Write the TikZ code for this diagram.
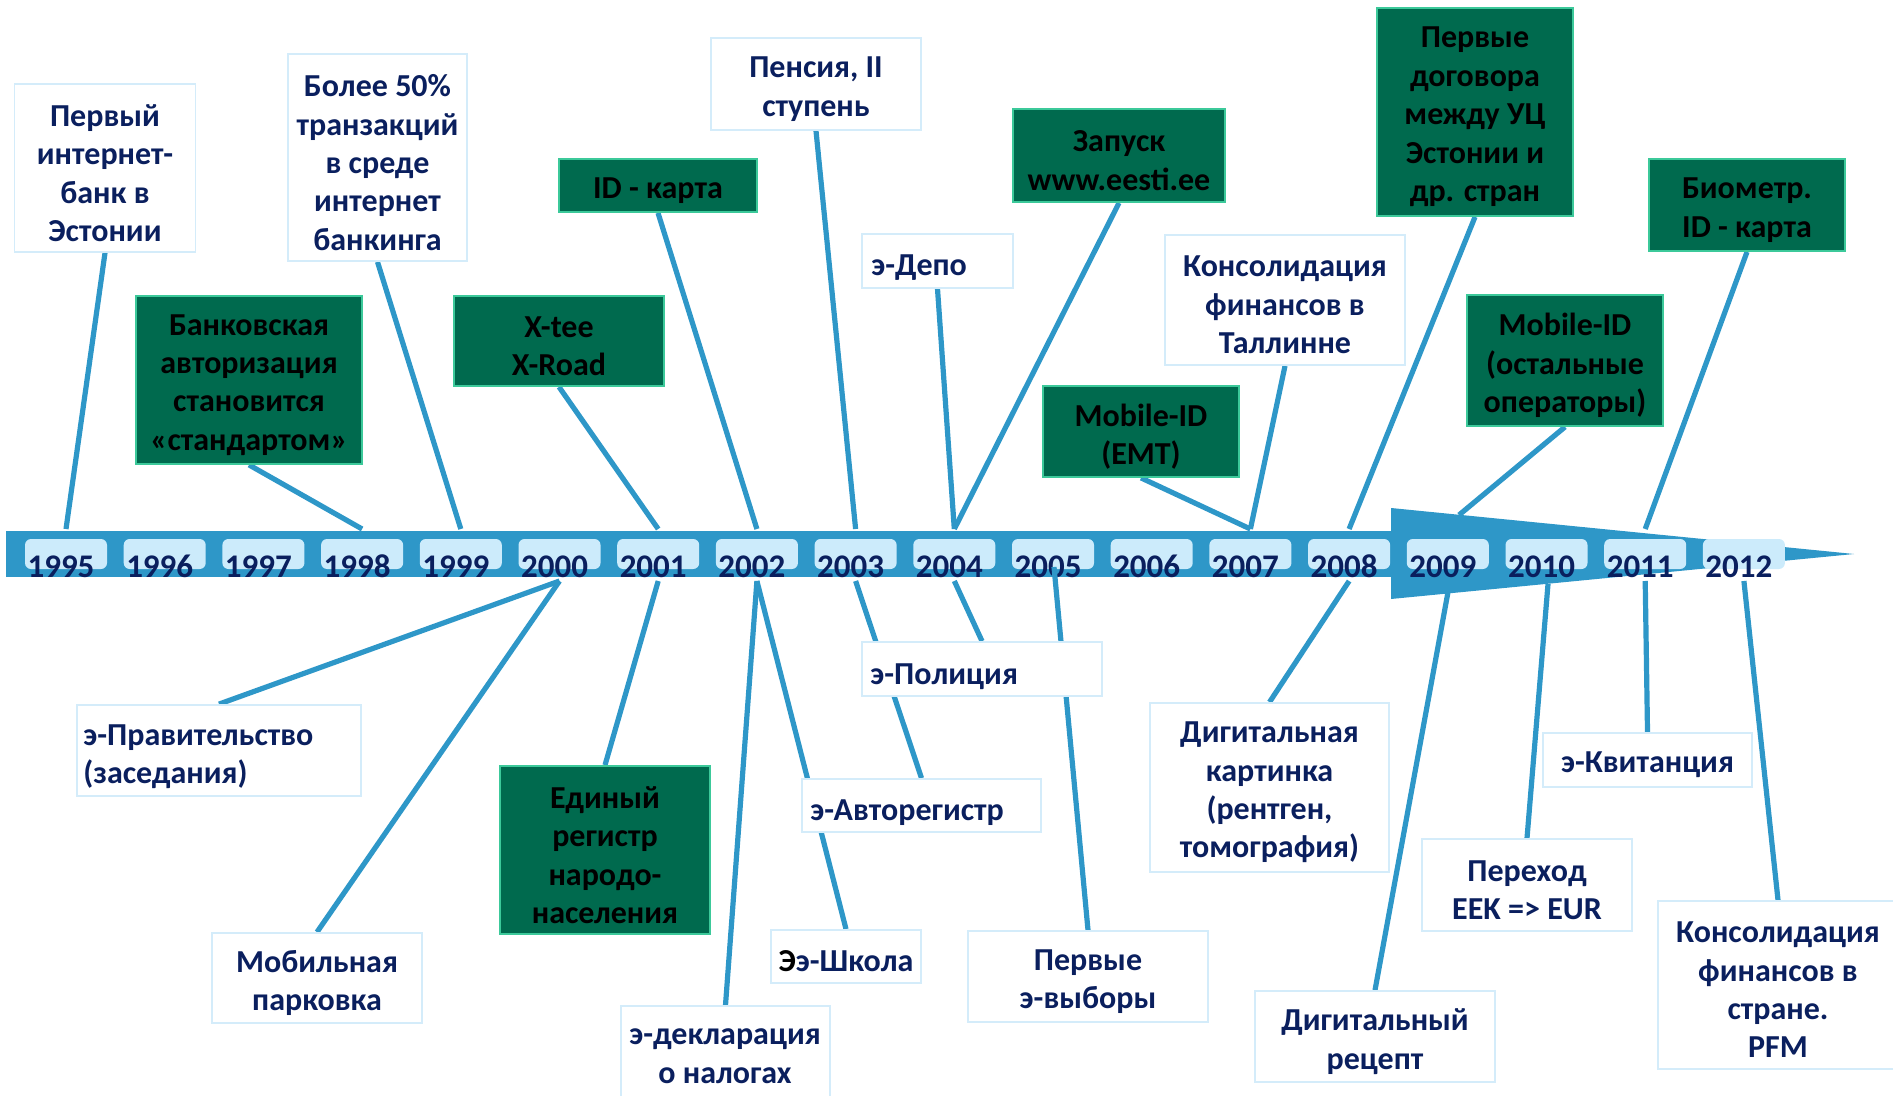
\documentclass[tikz,border=0pt]{standalone}
\usepackage{fontspec}
\setmainfont{Carlito}
\usetikzlibrary{fit}
\definecolor{navy}{HTML}{0A1F5E}
\definecolor{gfill}{HTML}{006A4E}
\definecolor{gline}{HTML}{3CC99A}
\definecolor{wline}{HTML}{D4ECFA}
\definecolor{lblue}{HTML}{2E97C8}
\definecolor{ybox}{HTML}{CCEBFB}
\pgfdeclarelayer{bg}
\pgfdeclarelayer{mid}
\pgfsetlayers{bg,mid,main}
\begin{document}
\begin{tikzpicture}[x=0.5pt,y=-0.5pt,
  txt/.style={font=\fontsize{16}{19.2}\selectfont\bfseries, inner sep=0pt},
  wbox/.style={draw=wline, line width=0.9pt, fill=white, inner sep=0pt},
  gbox/.style={draw=gline, line width=0.9pt, fill=gfill, inner sep=0pt},
  wt/.style={txt, text=navy, align=center, yshift=-2.5pt},
  gt/.style={txt, text=black, align=center, yshift=-2.5pt},
  ltxt/.style={txt, text=navy, align=left},
  conn/.style={draw=lblue, line width=2.6pt},
  yearbox/.style={fill=ybox, rounded corners=3pt, minimum width=41pt, minimum height=15pt, inner sep=0pt},
  yeartxt/.style={font=\fontsize{16.5}{18}\selectfont\bfseries, text=navy, anchor=base, inner sep=0pt}]
\useasboundingbox (0,0) rectangle (1893,1096);

% ---- timeline bar ----
\begin{pgfonlayer}{bg}
  \fill[lblue] (6,531) rectangle (1391,577);
  \fill[lblue] (1391,508) -- (1854,554) -- (1391,599) -- cycle;
  \foreach \i in {0,...,17}{
    \pgfmathsetmacro\cx{66+98.7*\i}
    \pgfmathtruncatemacro\yr{1995+\i}
    \node[yearbox] (yb\yr) at (\cx,554) {};
    \node[yeartxt] (yt\yr) at (\cx-5,577) {\yr};
    \coordinate (t\yr) at (\cx,529);
    \coordinate (b\yr) at (\cx,581);
  }
\end{pgfonlayer}
\coordinate (t2009x) at (1459,515);
\coordinate (b2005x) at (1054,567);
\coordinate (b2009x) at (1448,592);
\coordinate (b2010x) at (1548,584);

% ---- upper boxes ----
\node[wbox, fit={(14.5,84) (195.5,252)}] (a1) {};
\node[wt] (a1t) at (a1.center) {Первый\\интернет-\\банк в\\Эстонии};
\node[wbox, fit={(288,54) (467,261)}] (a2) {};
\node[wt] (a2t) at (a2.center) {Более 50\%\\транзакций\\в среде\\интернет\\банкинга};
\node[wbox, fit={(711,38) (921,130)}] (a3) {};
\node[wt] (a3t) at (a3.center) {Пенсия, II\\ступень};
\node[wbox, fit={(862,234) (1013,288)}] (a4) {};
\node[ltxt, anchor=base west] (a4t) at (871,276) {э-Депо};
\node[wbox, fit={(1165,235) (1405,365)}] (a5) {};
\node[wt] (a5t) at (a5.center) {Консолидация\\финансов в\\Таллинне};

\node[gbox, fit={(136,296) (362,464)}] (g1) {};
\node[gt] (g1t) at (g1.center) {Банковская\\авторизация\\становится\\«стандартом»};
\node[gbox, fit={(454,296) (664,386)}] (g2) {};
\node[gt] (g2t) at (g2.center) {X-tee\\X-Road};
\node[gbox, fit={(559,159) (757,212)}] (g3) {};
\node[gt] (g3t) at (g3.center) {ID - карта};
\node[gbox, fit={(1013,109) (1225,202)}] (g4) {};
\node[gt] (g4t) at (g4.center) {Запуск\\www.eesti.ee};
\node[gbox, fit={(1043,386) (1239,477)}] (g5) {};
\node[gt] (g5t) at (g5.center) {Mobile-ID\\(EMT)};
\node[gbox, fit={(1377,8) (1573,216)}] (g6) {};
\node[gt] (g6t) at (g6.center) {Первые\\договора\\между УЦ\\Эстонии и\\др. стран};
\node[gbox, fit={(1467,295) (1663,426)}] (g7) {};
\node[gt] (g7t) at (g7.center) {Mobile-ID\\(остальные\\операторы)};
\node[gbox, fit={(1649,159) (1845,251)}] (g8) {};
\node[gt] (g8t) at (g8.center) {Биометр.\\ID - карта};

% ---- lower boxes ----
\node[wbox, fit={(77,705) (361,796)}] (b1) {};
\node[ltxt, anchor=north west] (b1t) at (83,724) {э-Правительство\\(заседания)};
\node[wbox, fit={(212,933) (422,1023)}] (b2) {};
\node[wt] (b2t) at (b2.center) {Мобильная\\парковка};
\node[gbox, fit={(500,766) (710,934)}] (g9) {};
\node[gt] (g9t) at (g9.center) {Единый\\регистр\\народо-\\населения};
\node[wbox, fit={(621,1006) (830,1120)}] (b3) {};
\node[txt, text=navy, align=center, anchor=base] (b3t) at (725,1083) {э-декларация\\о налогах};
\node[wbox, fit={(862,642) (1102,696)}] (b4) {};
\node[ltxt, anchor=base west] (b4t) at (870,684) {э-Полиция};
\node[wbox, fit={(802,779) (1041,832)}] (b5) {};
\node[ltxt, anchor=base west] (b5t) at (810,820) {э-Авторегистр};
\node[wbox, fit={(771,930) (921,983)}] (b6) {};
\node[wt] (b6t) at (b6.center) {{\color{black}Э}э-Школа};
\node[wbox, fit={(968,931) (1208,1022)}] (b7) {};
\node[wt] (b7t) at (b7.center) {Первые\\э-выборы};
\node[wbox, fit={(1150,703) (1389,872)}] (b8) {};
\node[wt] (b8t) at (b8.center) {Дигитальная\\картинка\\(рентген,\\томография)};
\node[wbox, fit={(1255,991) (1495,1082)}] (b9) {};
\node[wt] (b9t) at (b9.center) {Дигитальный\\рецепт};
\node[wbox, fit={(1422,839) (1632,931)}] (b10) {};
\node[wt] (b10t) at (b10.center) {Переход\\EEK => EUR};
\node[wbox, fit={(1543,733) (1752,787)}] (b11) {};
\node[wt] (b11t) at (b11.center) {э-Квитанция};
\node[wbox, fit={(1658,901) (1900,1069)}] (b12) {};
\node[wt] (b12t) at (1778,985) {Консолидация\\финансов в\\стране.\\PFM};

% ---- connectors ----
\begin{pgfonlayer}{mid}
  \draw[conn] (a1.south) -- (t1995);
  \draw[conn] (g1.south) -- (t1998);
  \draw[conn] (a2.south) -- (t1999);
  \draw[conn] (g2.south) -- (t2001);
  \draw[conn] (g3.south) -- (t2002);
  \draw[conn] (a3.south) -- (t2003);
  \draw[conn] (a4.south) -- (t2004);
  \draw[conn] (g4.south) -- (t2004);
  \draw[conn] (g5.south) -- (t2007);
  \draw[conn] (a5.south) -- (t2007);
  \draw[conn] (g6.south) -- (t2008);
  \draw[conn] (g7.south) -- (t2009x);
  \draw[conn] (g8.south) -- (t2011);
  \draw[conn] (b2000) -- (b1.north);
  \draw[conn] (b2000) -- (b2.north);
  \draw[conn] (b2001) -- (g9.north);
  \draw[conn] (b2002) -- (b3.north);
  \draw[conn] (b2002) -- (b6.north);
  \draw[conn] (b2003) -- (b5.north);
  \draw[conn] (b2004) -- (b4.north);
  \draw[conn] (b2005x) -- (b7.north);
  \draw[conn] (b2008) -- (b8.north);
  \draw[conn] (b2009x) -- (b9.north);
  \draw[conn] (b2010x) -- (b10.north);
  \draw[conn] (b2011) -- (b11.north);
  \draw[conn] (b2012) -- (b12.north -| 1778,0);
\end{pgfonlayer}
\end{tikzpicture}
\end{document}
